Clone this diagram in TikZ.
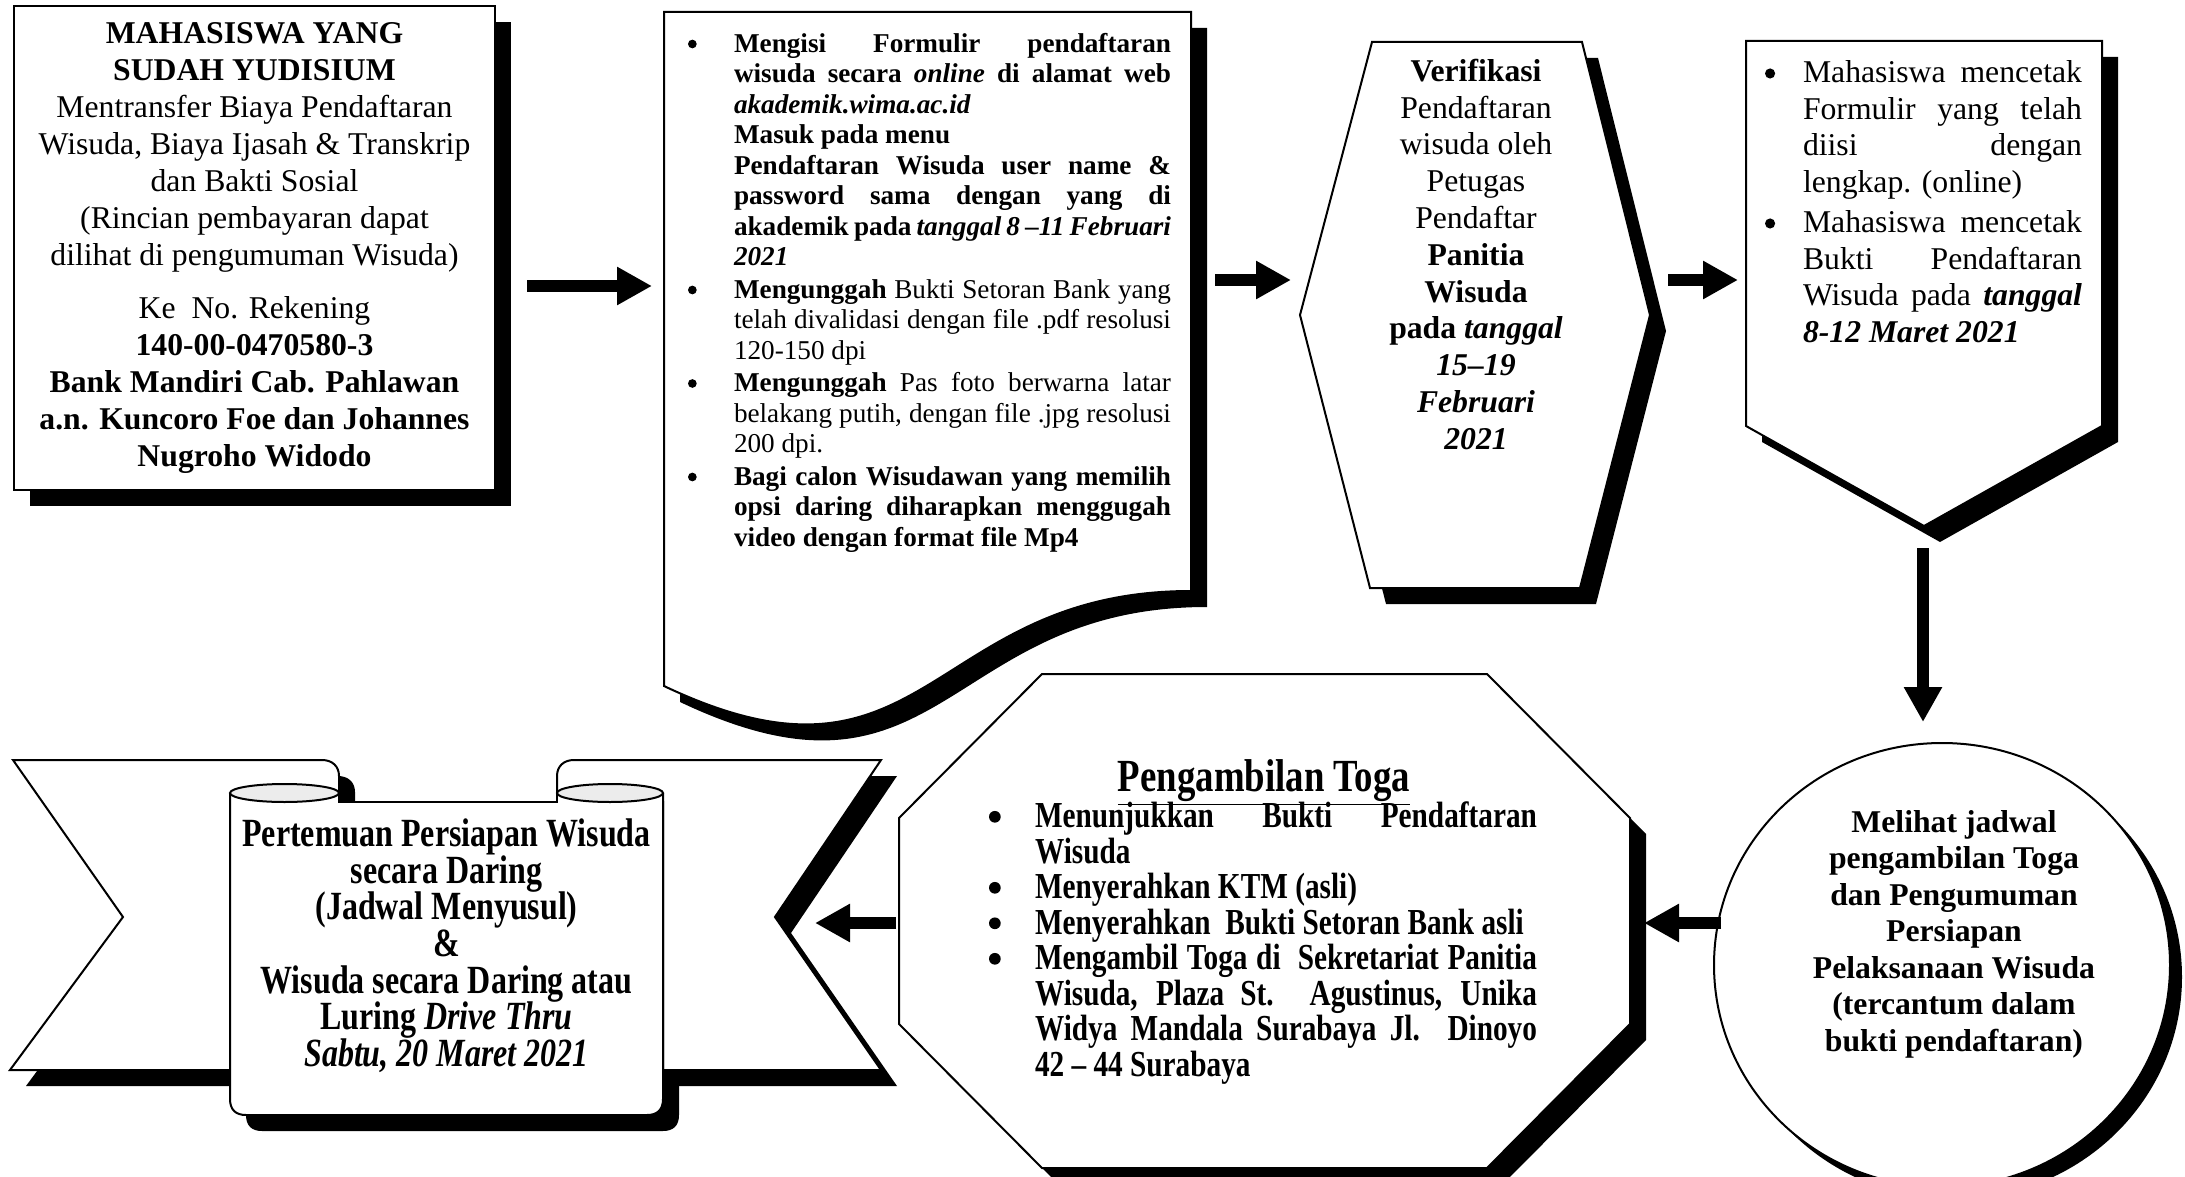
\documentclass[tikz,border=0pt]{standalone}
\usepackage{fontspec}
\setmainfont{Liberation Serif}
\newfontfamily\narrowserif[FakeStretch=0.8]{Liberation Serif}
\usetikzlibrary{arrows.meta}
\newlength\bind
\newlength\tw
\newcommand\bulsym{\tikz[baseline=-0.3em]\fill[black] (0,0) circle (0.16em);}
\newcommand\Bj[1]{\makebox[\bind][l]{\bulsym}\makebox[\tw][s]{#1}}
\newcommand\Bl[1]{\makebox[\bind][l]{\bulsym}\makebox[\tw][l]{#1}}
\newcommand\Cj[1]{\hspace*{\bind}\makebox[\tw][s]{#1}}
\newcommand\Cl[1]{\hspace*{\bind}\makebox[\tw][l]{#1}}
\tikzset{
  outl/.style={draw=black, fill=white, line width=1pt, line join=miter},
  shad/.style={fill=black, draw=none},
  blockarrow/.style={line width=6pt, -{Triangle[width=18pt,length=17.5pt]}},
  txt/.style={inner sep=0pt, outer sep=0pt},
}
\begin{document}
\begin{tikzpicture}[x=0.5pt,y=-0.5pt]
\useasboundingbox (0,0) rectangle (2185,1177);
\fill[white] (0,0) rectangle (2185,1177);

% ---------- Box 1 ----------
\fill[shad,shift={(16,16)}] (14,6) rectangle (495,490);
\draw[outl] (14,6) rectangle (495,490);
\node[txt, anchor=north, align=center, font=\fontsize{15.85pt}{18.5pt}\selectfont] (t1) at (254.5,22.5)
{\textbf{MAHASISWA YANG}\\ \textbf{SUDAH YUDISIUM}\\ Mentransfer Biaya Pendaftaran\\ Wisuda, Biaya Ijasah \& Transkrip\\ dan Bakti Sosial\\ (Rincian pembayaran dapat\\ dilihat di pengumuman Wisuda)\\[8pt] Ke~~No. Rekening\\ \textbf{140-00-0470580-3}\\ \textbf{Bank Mandiri Cab. Pahlawan}\\ \textbf{a.n. Kuncoro Foe dan Johannes}\\ \textbf{Nugroho Widodo}};

% ---------- Box 2 (document) ----------
\fill[shad,shift={(16,16)}] (664,12) -- (1191,12) -- (1191,591) .. controls (927.5,591) and (927.5,811) .. (664,686) -- cycle;
\draw[outl] (664,12) -- (1191,12) -- (1191,591) .. controls (927.5,591) and (927.5,811) .. (664,686) -- cycle;
\node[txt, anchor=north west, align=left, font={\fontsize{13.6pt}{15.25pt}\selectfont\setlength\bind{23pt}\setlength\tw{218.5pt}}] (t2) at (688,33)
{\Bj{\textbf{Mengisi Formulir pendaftaran}}\\
\Cj{\textbf{wisuda secara \textit{online} di alamat web}}\\
\Cl{\textbf{\textit{akademik.wima.ac.id}}}\\
\Cl{\textbf{Masuk pada menu}}\\
\Cj{\textbf{Pendaftaran Wisuda user name \&}}\\
\Cj{\textbf{password sama dengan yang di}}\\
\Cj{\textbf{akademik pada \textit{tanggal 8 –11 Februari}}}\\
\Cl{\textbf{\textit{2021}}}\\[1pt]
\Bj{\textbf{Mengunggah} Bukti Setoran Bank yang}\\
\Cj{telah divalidasi dengan file .pdf resolusi}\\
\Cl{120-150 dpi}\\[1pt]
\Bj{\textbf{Mengunggah} Pas foto berwarna latar}\\
\Cj{belakang putih, dengan file .jpg resolusi}\\
\Cl{200 dpi.}\\[1pt]
\Bj{\textbf{Bagi calon Wisudawan yang memilih}}\\
\Cj{\textbf{opsi daring diharapkan menggugah}}\\
\Cl{\textbf{video dengan format file Mp4}}};

% ---------- Hexagon ----------
\fill[shad,shift={(16,16)}] (1372,42) -- (1582,42) -- (1650,315) -- (1580,588) -- (1370,588) -- (1300,315) -- cycle;
\draw[outl] (1372,42) -- (1582,42) -- (1650,315) -- (1580,588) -- (1370,588) -- (1300,315) -- cycle;
\node[txt, anchor=north, align=center, font=\fontsize{15.85pt}{18.4pt}\selectfont] (t3) at (1476,59)
{\textbf{Verifikasi}\\ Pendaftaran\\ wisuda oleh\\ Petugas\\ Pendaftar\\ \textbf{Panitia}\\ \textbf{Wisuda}\\ \textbf{pada \textit{tanggal}}\\ \textbf{\textit{15–19}}\\ \textbf{\textit{Februari}}\\ \textbf{\textit{2021}}};

% ---------- Box 4 (off-page connector) ----------
\fill[shad,shift={(16,16)}] (1746,41) -- (2102,41) -- (2102,426) -- (1924,526) -- (1746,426) -- cycle;
\draw[outl] (1746,41) -- (2102,41) -- (2102,426) -- (1924,526) -- (1746,426) -- cycle;
\node[txt, anchor=north west, align=left, font={\fontsize{15.85pt}{18.25pt}\selectfont\setlength\bind{19pt}\setlength\tw{139.5pt}}] (t4) at (1765,61)
{\Bj{Mahasiswa mencetak}\\
\Cj{Formulir yang telah}\\
\Cj{diisi dengan}\\
\Cl{lengkap. (online)}\\[2pt]
\Bj{Mahasiswa mencetak}\\
\Cj{Bukti Pendaftaran}\\
\Cj{Wisuda pada \textbf{\textit{tanggal}}}\\
\Cl{\textbf{\textit{8-12 Maret 2021}}}};

% ---------- Circle ----------
\fill[shad] (1954,977) ellipse [x radius=228, y radius=222];
\draw[outl] (1942,965) ellipse [x radius=228, y radius=222];
\node[txt, anchor=north, align=center, font=\bfseries\fontsize{15.85pt}{18.25pt}\selectfont] (t7) at (1954,810)
{Melihat jadwal\\ pengambilan Toga\\ dan Pengumuman\\ Persiapan\\ Pelaksanaan Wisuda\\ (tercantum dalam\\ bukti pendaftaran)};

% ---------- Octagon ----------
\fill[shad,shift={(16,16)}] (1042,674) -- (1487,674) -- (1630,818) -- (1630,1024) -- (1487,1168) -- (1042,1168) -- (899,1024) -- (899,818) -- cycle;
\draw[outl] (1042,674) -- (1487,674) -- (1630,818) -- (1630,1024) -- (1487,1168) -- (1042,1168) -- (899,1024) -- (899,818) -- cycle;
\node[txt, anchor=base, font=\narrowserif\bfseries\fontsize{23pt}{25pt}\selectfont] (t5a) at (1264,791) {\underline{Pengambilan Toga}};
\node[txt, anchor=north west, align=left, font={\narrowserif\bfseries\fontsize{18.3pt}{17.75pt}\selectfont\setlength\bind{23pt}\setlength\tw{251pt}}] (t5b) at (989,802)
{\Bj{Menunjukkan Bukti Pendaftaran}\\
\Cl{Wisuda}\\
\Bl{Menyerahkan KTM (asli)}\\
\Bl{Menyerahkan~ Bukti Setoran Bank asli}\\
\Bj{Mengambil Toga di~ Sekretariat Panitia}\\
\Cj{Wisuda, Plaza St. Agustinus, Unika}\\
\Cj{Widya Mandala Surabaya Jl. Dinoyo}\\
\Cl{42 – 44 Surabaya}};

% ---------- Banner (down ribbon) ----------
\begin{scope}[shift={(16,16)}]
\fill[shad] (13,760) -- (322,760) .. controls (332,760) and (339,766) .. (339,776) -- (339,802) -- (230,802) -- (230,1070) -- (10,1070) -- (123,917) -- cycle;
\fill[shad] (881,760) -- (574,760) .. controls (564,760) and (557,766) .. (557,776) -- (557,802) -- (663,802) -- (663,1070) -- (881,1070) -- (775,917) -- cycle;
\fill[shad] (230,793) -- (230,1099) .. controls (230,1110) and (236,1115) .. (246,1115) -- (647,1115) .. controls (657,1115) and (663,1110) .. (663,1099) -- (663,793) -- cycle;
\end{scope}
\draw[outl] (13,760) -- (322,760) .. controls (332,760) and (339,766) .. (339,776) -- (339,802) -- (230,802) -- (230,1070) -- (10,1070) -- (123,917) -- cycle;
\draw[outl] (881,760) -- (574,760) .. controls (564,760) and (557,766) .. (557,776) -- (557,802) -- (663,802) -- (663,1070) -- (881,1070) -- (775,917) -- cycle;
\fill[white] (230,793) -- (230,1099) .. controls (230,1110) and (236,1115) .. (246,1115) -- (647,1115) .. controls (657,1115) and (663,1110) .. (663,1099) -- (663,793) -- (557,793) -- (557,802) -- (339,802) -- (339,793) -- cycle;
\draw[line width=1pt] (230,793) -- (230,1099) .. controls (230,1110) and (236,1115) .. (246,1115) -- (647,1115) .. controls (657,1115) and (663,1110) .. (663,1099) -- (663,793);
\draw[line width=1pt] (339,776) -- (339,802) -- (557,802) -- (557,776);
\draw[line width=1pt, fill=gray!15] (284.5,793) ellipse [x radius=54.5, y radius=9];
\draw[line width=1pt, fill=gray!15] (610,793) ellipse [x radius=53, y radius=9];
\node[txt, anchor=north, align=center, font=\narrowserif\bfseries\fontsize{20pt}{18.3pt}\selectfont] (t6) at (446.5,819)
{Pertemuan Persiapan Wisuda\\ secara Daring\\ (Jadwal Menyusul)\\ \&\\ Wisuda secara Daring atau\\ Luring \textit{Drive Thru}\\ \textit{Sabtu, 20 Maret 2021}};

% ---------- Arrows ----------
\coordinate (a1s) at (527,286);  \coordinate (a1e) at (652,286);
\coordinate (a2s) at (1215,280); \coordinate (a2e) at (1291,280);
\coordinate (a3s) at (1668,280); \coordinate (a3e) at (1738,280);
\coordinate (a4s) at (1923,548); \coordinate (a4e) at (1923,722);
\coordinate (a5s) at (1721,923); \coordinate (a5e) at (1644,923);
\coordinate (a6s) at (896,923);  \coordinate (a6e) at (815,923);
\draw[blockarrow] (a1s) -- (a1e);
\draw[blockarrow] (a2s) -- (a2e);
\draw[blockarrow] (a3s) -- (a3e);
\draw[blockarrow] (a4s) -- (a4e);
\draw[blockarrow] (a5s) -- (a5e);
\draw[blockarrow] (a6s) -- (a6e);
\end{tikzpicture}
\end{document}
